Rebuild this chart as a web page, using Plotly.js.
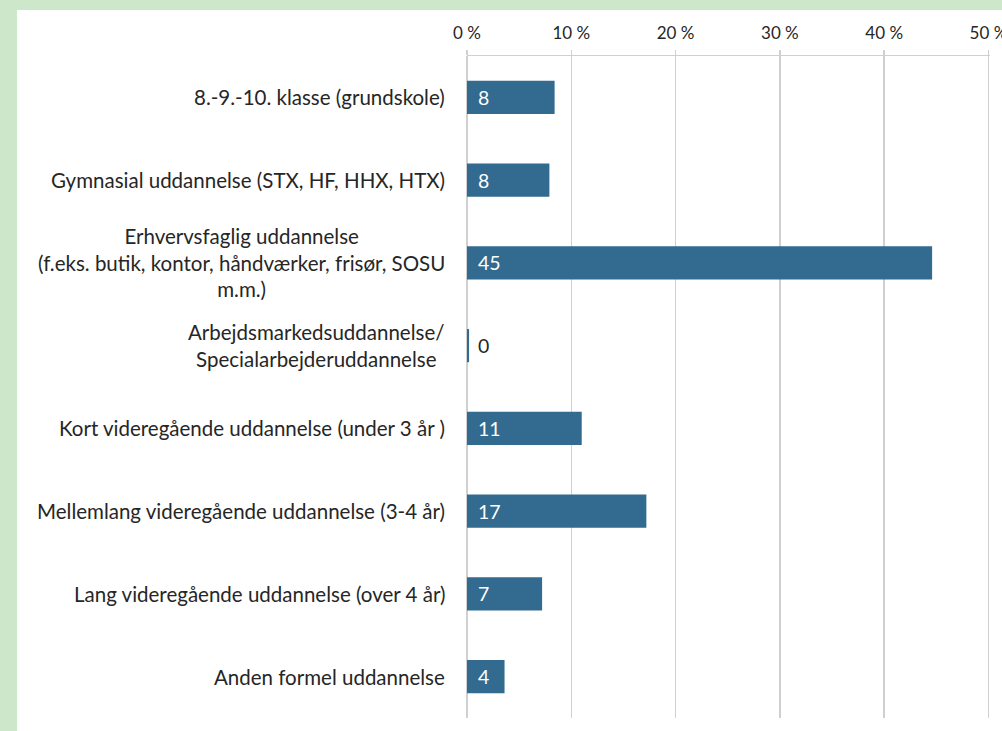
<!DOCTYPE html>
<html>
<head>
<meta charset="utf-8">
<script src="https://cdn.plot.ly/plotly-3.0.1.min.js"></script>
<style>
  html, body { margin: 0; padding: 0; width: 1002px; height: 731px; overflow: hidden; background: #CDE7CB; }
  #chart { position: absolute; left: 17px; top: 10px; width: 985px; height: 721px; background: #fff; }
</style>
</head>
<body>
<div id="chart"></div>
<script>
const categories = [
  "8.-9.-10. klasse (grundskole)",
  "Gymnasial uddannelse (STX, HF, HHX, HTX)",
  "Erhvervsfaglig uddannelse<br>(f.eks. butik, kontor, håndværker, frisør, SOSU<br>m.m.)",
  "Arbejdsmarkedsuddannelse/<br>Specialarbejderuddannelse",
  "Kort videregående uddannelse (under 3 år )",
  "Mellemlang videregående uddannelse (3-4 år)",
  "Lang videregående uddannelse (over 4 år)",
  "Anden formel uddannelse"
];
const values = [8.4, 7.9, 44.6, 0.2, 11.0, 17.2, 7.2, 3.6];
const valueLabels = ["8", "8", "45", "0", "11", "17", "7", "4"];
const xTickValues = [0, 10, 20, 30, 40, 50];
const xTickLabels = ["0 %", "10 %", "20 %", "30 %", "40 %", "50 %"];

const FONT = "Lato, 'Open Sans', sans-serif";
const TEXT = "#262626";
const GRID = "#D0D0D0";
const BAR = "#326A90";

const ids = categories.map((c, i) => "c" + i);

const trace = {
  type: "bar",
  orientation: "h",
  x: values,
  y: ids,
  marker: { color: BAR, line: { width: 0 } },
  hoverinfo: "skip"
};

const annotations = [];
categories.forEach((c, i) => {
  annotations.push({
    xref: "paper", yref: "y", x: 0, y: ids[i],
    text: c, showarrow: false, xanchor: "right", yanchor: "middle",
    align: "center", xshift: -20,
    font: { family: FONT, size: 20.5, color: TEXT }
  });
  annotations.push({
    xref: "x", yref: "y", x: 0, y: ids[i],
    text: valueLabels[i], showarrow: false, xanchor: "left", yanchor: "middle",
    xshift: 9,
    font: { family: FONT, size: 19.5, color: values[i] < 2 ? TEXT : "#FFFFFF" }
  });
});

const layout = {
  width: 985, height: 721,
  margin: { l: 450, r: 12, t: 46, b: 13, pad: 0 },
  paper_bgcolor: "#FFFFFF",
  plot_bgcolor: "#FFFFFF",
  showlegend: false,
  bargap: 0.6,
  xaxis: {
    side: "top",
    range: [0, 50.15],
    tickmode: "array",
    tickvals: xTickValues,
    ticktext: xTickLabels,
    ticklabeloverflow: "allow",
    showgrid: true, gridcolor: GRID, gridwidth: 1.5,
    zeroline: true, zerolinecolor: GRID, zerolinewidth: 1.5,
    showline: true, linecolor: GRID, linewidth: 1.5,
    ticks: "outside", ticklen: 5, tickcolor: GRID, tickwidth: 1.5,
    ticklabelstandoff: 4,
    tickfont: { family: FONT, size: 17, color: TEXT },
    fixedrange: true
  },
  yaxis: {
    type: "category",
    categoryorder: "array", categoryarray: ids,
    autorange: "reversed",
    showticklabels: false,
    showgrid: false, zeroline: false, showline: false, ticks: "",
    fixedrange: true
  },
  annotations: annotations
};

Plotly.newPlot("chart", [trace], layout, { displayModeBar: false, staticPlot: true });
</script>
</body>
</html>
